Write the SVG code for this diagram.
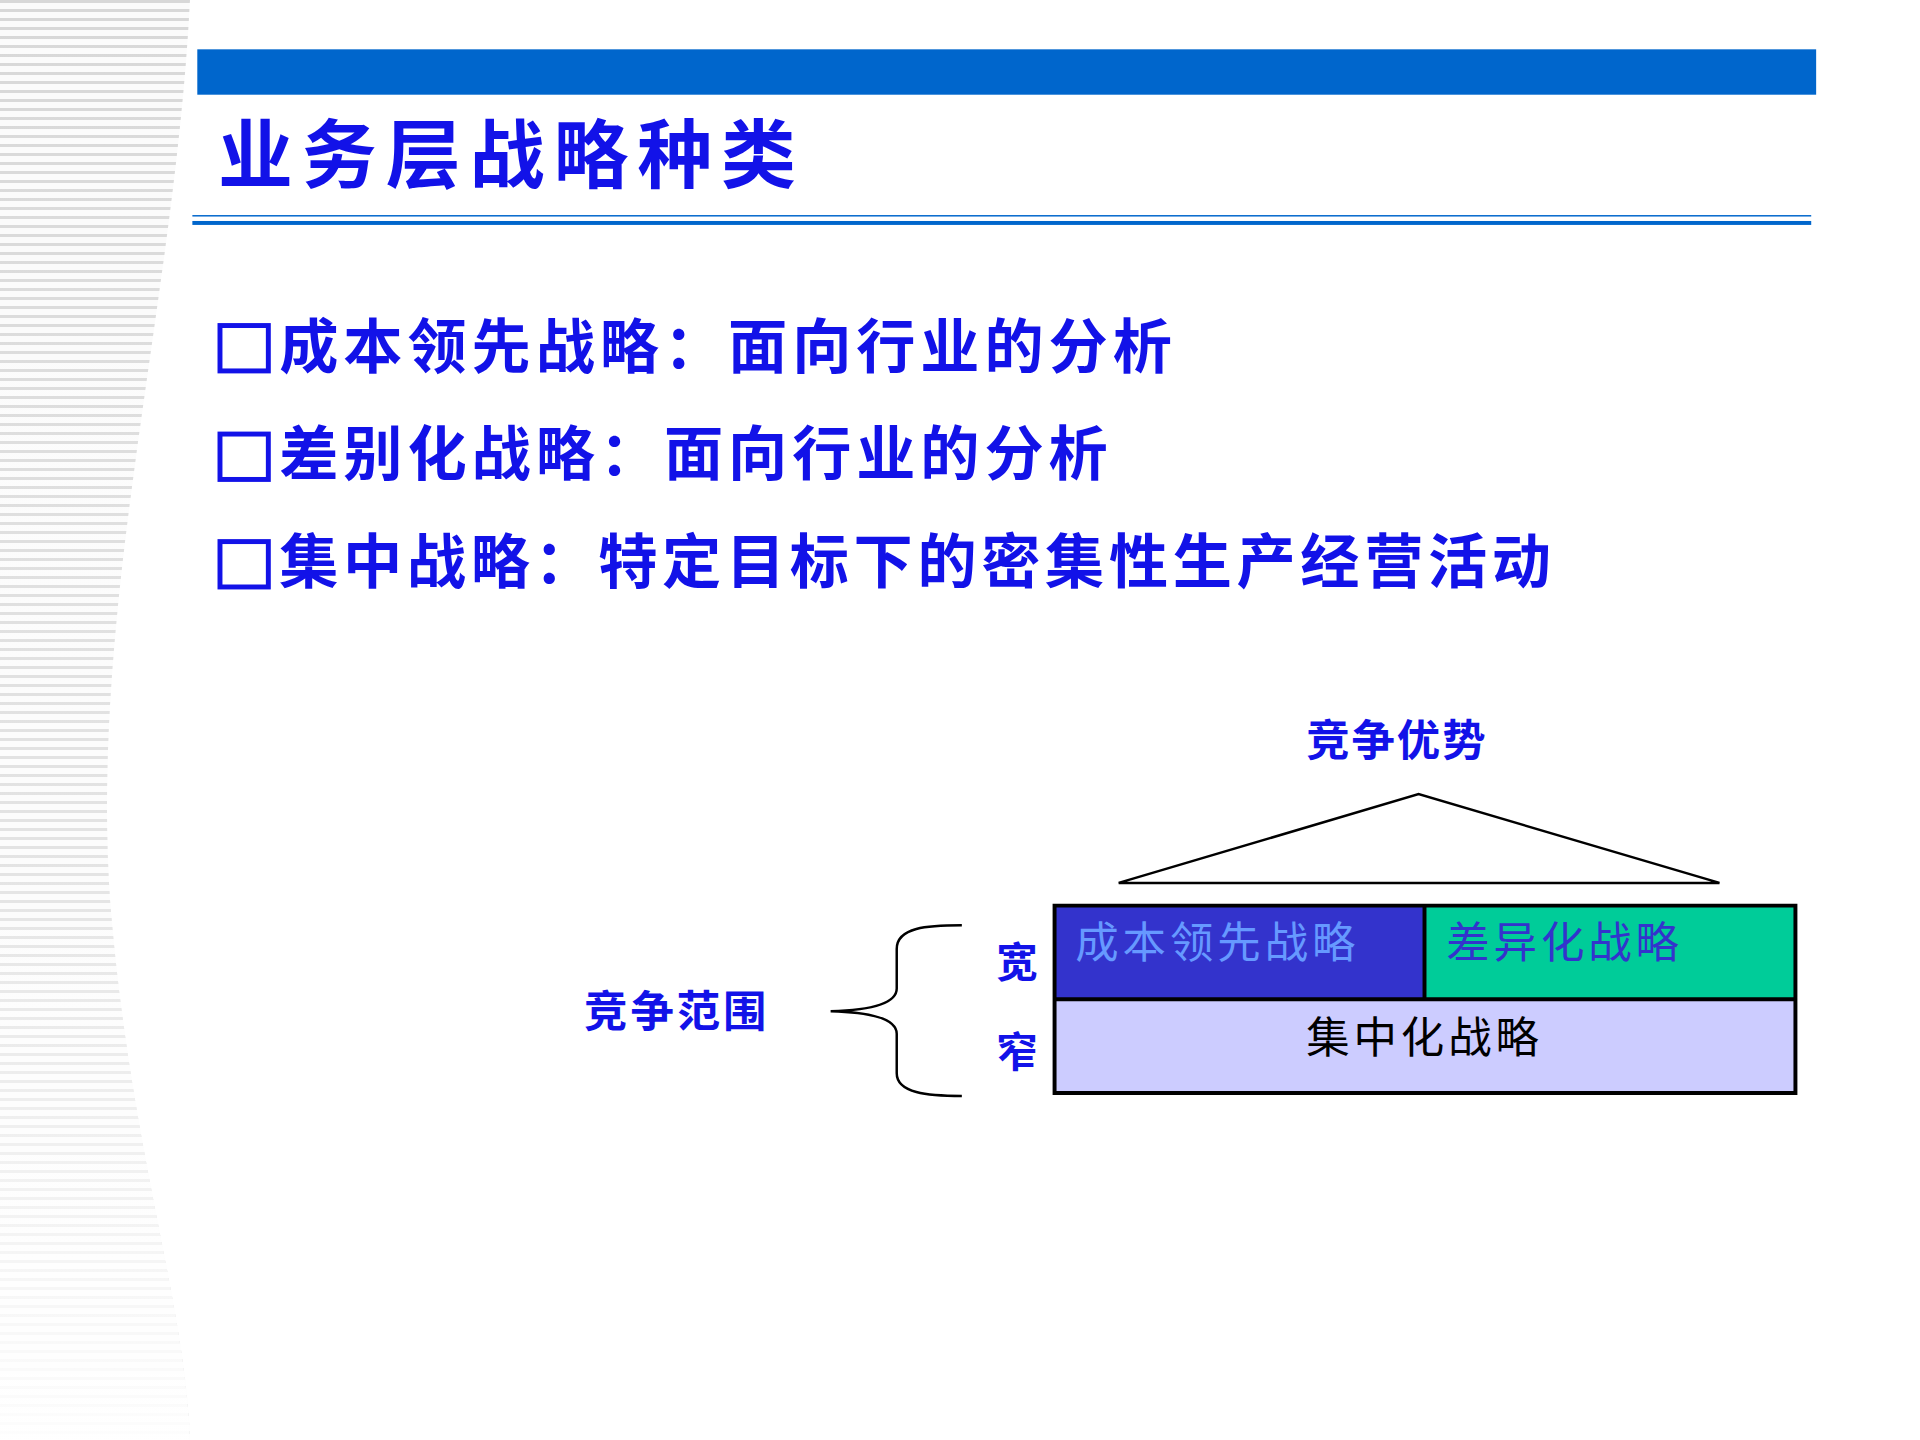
<svg xmlns="http://www.w3.org/2000/svg" width="1920" height="1440" viewBox="0 0 1920 1440">
<style>
.b{font-family:"Noto Sans CJK SC","Noto Sans CJK JP",sans-serif;font-weight:bold;fill:#1212e8}
.n{font-family:"Noto Sans CJK SC","Noto Sans CJK JP",sans-serif}
</style>
<defs>
<pattern id="st" width="10" height="9" patternUnits="userSpaceOnUse"><rect width="10" height="9" fill="#fbfbfb"/><rect width="10" height="3" fill="#d8d8d8"/></pattern>
<linearGradient id="fd" x1="0" y1="0" x2="0" y2="1"><stop offset="0" stop-color="#fff" stop-opacity="0"/><stop offset="0.6" stop-color="#fff" stop-opacity="0.3"/><stop offset="1" stop-color="#fff" stop-opacity="0.95"/></linearGradient>
</defs>
<rect width="1920" height="1440" fill="#fff"/>
<g id="bg">
<path d="M0 0H190C175 300 90 600 110 900C130 1150 185 1300 190 1440H0Z" fill="url(#st)"/>
<path d="M0 0H190C175 300 90 600 110 900C130 1150 185 1300 190 1440H0Z" fill="url(#fd)"/>
</g>
<g transform="scale(0.9865)">
<rect x="200" y="50" width="1641" height="46" fill="#0066cc"/>
<text class="b" x="221" y="184" font-size="76" letter-spacing="9">业务层战略种类</text>
<rect x="195" y="218" width="1641" height="1.5" fill="#0066cc"/>
<rect x="195" y="224" width="1641" height="4" fill="#0066cc"/>
<g id="bullets" fill="none" stroke="#1212e8" stroke-width="5">
<rect x="223" y="330" width="49" height="46"/>
<rect x="223" y="440" width="49" height="46"/>
<rect x="223" y="549" width="49" height="46"/>
</g>
<text class="b" x="283" y="373" font-size="60" letter-spacing="5">成本领先战略：面向行业的分析</text>
<text class="b" x="283" y="482" font-size="60" letter-spacing="5">差别化战略：面向行业的分析</text>
<text class="b" x="283" y="591" font-size="60" letter-spacing="4.7">集中战略：特定目标下的密集性生产经营活动</text>
<g id="triangle"><path d="M1134 895L1438 805L1743 895Z" fill="none" stroke="#000" stroke-width="2.5"/></g>
<text class="b" x="1416" y="766" font-size="44" text-anchor="middle" letter-spacing="2">竞争优势</text>
<g id="box">
<rect x="1069" y="918" width="375" height="95" fill="#3333cc"/>
<rect x="1444" y="918" width="376" height="95" fill="#00cc99"/>
<rect x="1069" y="1013" width="751" height="95" fill="#ccccff"/>
<path d="M1069 918H1820V1108H1069Z M1444 918V1013 M1069 1013H1820" fill="none" stroke="#000" stroke-width="4"/>
<text class="n" x="1090" y="971" font-size="44" fill="#6699ff" letter-spacing="4">成本领先战略</text>
<text class="n" x="1466" y="971" font-size="44" fill="#3333cc" letter-spacing="4">差异化战略</text>
<text class="n" x="1444" y="1067" font-size="44" fill="#000" text-anchor="middle" letter-spacing="4">集中化战略</text>
</g>
<text class="b" x="1031" y="990" font-size="42" text-anchor="middle">宽</text>
<text class="b" x="1031" y="1082" font-size="42" text-anchor="middle">窄</text>
<text class="b" x="686" y="1041" font-size="44" text-anchor="middle" letter-spacing="3">竞争范围</text>
<g id="brace"><path d="M975 938C940 938 909 940 909 962V1002C909 1018 880 1024 842 1025C880 1026 909 1032 909 1048V1088C909 1108 940 1111 975 1111" fill="none" stroke="#000" stroke-width="2.5"/></g>
</g>
</svg>
